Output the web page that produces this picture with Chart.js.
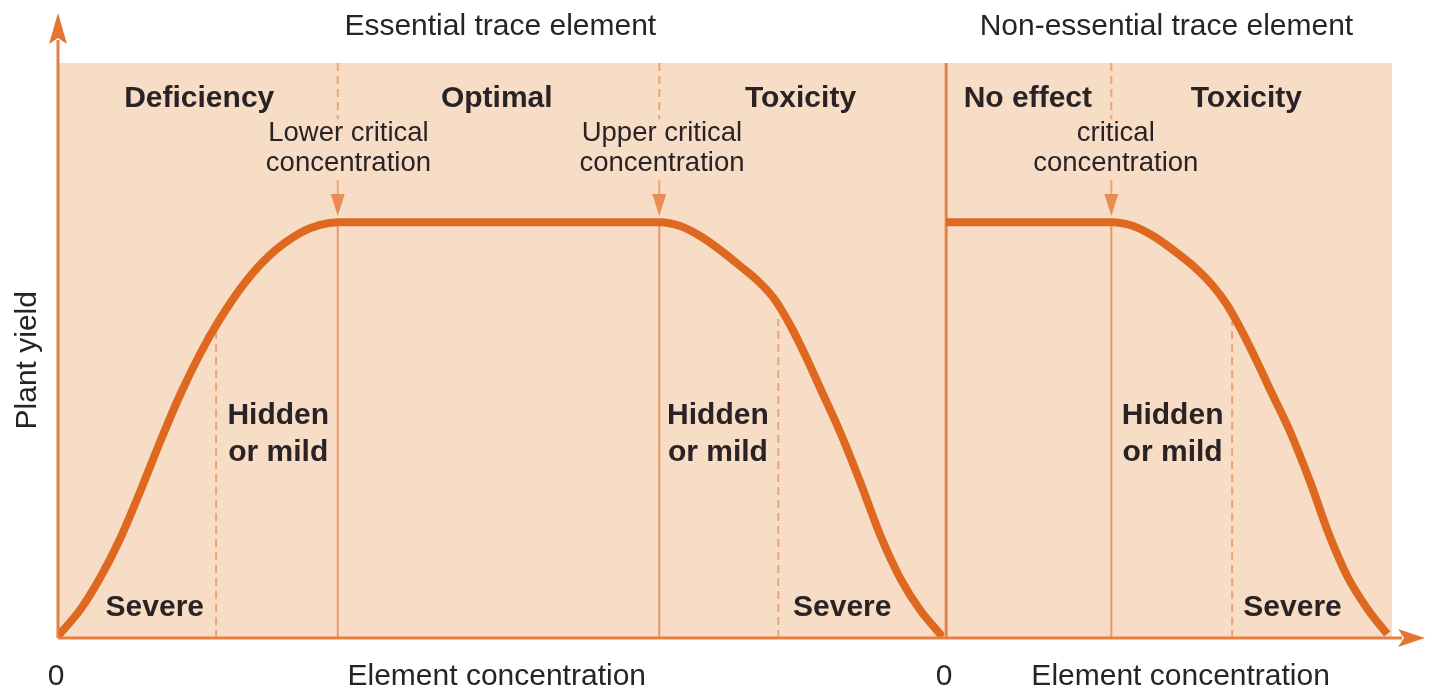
<!doctype html>
<html>
<head>
<title>Plant yield vs element concentration</title>
<script src="https://cdn.jsdelivr.net/npm/chart.js@4"></script>
<style>
body { margin: 0; background: #fff; font-family: "Liberation Sans", Arial, sans-serif; }
#holder { width: 1441px; height: 689px; }
</style>
</head>
<body>
<div id="holder"><canvas id="chart-area" width="1441" height="689"></canvas></div>
<script>
// curve for the essential trace element (x: concentration, y: yield %)
var essentialX = [0, 2.48, 4.73, 6.98, 9.23, 11.49, 13.74, 15.99, 18.24, 21.06, 23.87, 27.25, 29.5, 31.5,
                  67.7, 70.05, 72.3, 74.55, 76.8, 79.05, 80.74, 82.43, 84.12, 85.81, 88.06, 90.32, 92.57, 94.82, 97.07, 99.32];
var essentialY = [0.35, 4.87, 10.43, 17.22, 25.39, 34.09, 42.26, 49.39, 55.48, 61.83, 66.61, 70.43, 71.83, 72.3,
                  72.3, 71.65, 69.91, 67.48, 64.7, 61.74, 58.78, 54.43, 49.22, 43.48, 35.83, 27.13, 17.91, 10.43, 4.87, 0.7];
// curve for the non-essential trace element, second panel starts at x=100
var nonEssentialX = [100, 118.6, 121.06, 123.31, 125.56, 127.82, 129.95, 131.64, 133.22, 134.91, 136.6, 138.74, 140.99, 143.13, 145.27, 147.52, 149.66];
var nonEssentialY = [72.3, 72.3, 71.65, 69.91, 67.48, 64.7, 61.39, 57.91, 53.57, 48.35, 42.78, 35.83, 27.13, 17.91, 10.43, 4.87, 0.7];

var panelSplit = 100;
var criticalX = [31.5, 67.7, 118.6];      // lower, upper, non-essential critical concentration
var criticalTop = 72.3;
var hiddenX = [17.8, 81.1, 132.2];         // hidden/severe boundaries
var hiddenTop = [54.0, 55.5, 55.0];

var regionNames = ["Deficiency", "Optimal", "Toxicity", "No effect", "Toxicity"];
var regionX = [15.9, 49.4, 83.6, 109.2, 133.8];
var panelTitles = ["Essential trace element", "Non-essential trace element"];
var panelTitleX = [49.8, 124.8];
var criticalNames = [["Lower critical", "concentration"], ["Upper critical", "concentration"], ["critical", "concentration"]];
var criticalLabelX = [32.7, 68.0, 119.1];
var hiddenLabelX = [24.8, 74.3, 125.5];
var severeLabelX = [10.9, 88.3, 139.0];
var zeroX = [0, 100];
var axisTitleX = [49.4, 126.4];

function pts(xs, ys) {
    var out = [];
    for (var i = 0; i < xs.length; i++) out.push({x: xs[i], y: ys[i]});
    return out;
}

var curveColor = "rgb(222,104,32)";
var thinColor = "rgb(233,152,104)";
var dashColor = "rgb(236,165,122)";
var textColor = "#2a2326";
var font = '"Liberation Sans", Arial, sans-serif';

var datasets = [];
function vline(x, y0, y1, color, width, dash) {
    datasets.push({
        data: [{x: x, y: y0}, {x: x, y: y1}],
        borderColor: color, borderWidth: width, borderDash: dash || [],
        pointRadius: 0, tension: 0, order: 2
    });
}
vline(panelSplit, 0, 100, "rgb(230,130,70)", 3);
for (var i = 0; i < criticalX.length; i++) {
    vline(criticalX[i], 0, criticalTop, thinColor, 2);
    vline(criticalX[i], 100, 90.2, dashColor, 2, [8, 5]);
    vline(criticalX[i], 79.6, 76.5, dashColor, 2);
}
for (var i = 0; i < hiddenX.length; i++) {
    vline(hiddenX[i], 0, hiddenTop[i], dashColor, 2, [8, 5]);
}
datasets.push({
    data: pts(essentialX, essentialY), borderColor: curveColor, borderWidth: 8,
    pointRadius: 0, cubicInterpolationMode: "monotone", borderCapStyle: "round", order: 0
});
datasets.push({
    data: pts(nonEssentialX, nonEssentialY), borderColor: curveColor, borderWidth: 8,
    pointRadius: 0, cubicInterpolationMode: "monotone", borderCapStyle: "butt", order: 0
});

var decor = {
    id: "decor",
    beforeDatasetsDraw: function(chart) {
        var a = chart.chartArea, c = chart.ctx;
        c.save();
        c.fillStyle = "rgb(247,220,198)";
        c.fillRect(a.left, a.top, a.right - a.left, a.bottom - a.top);
        c.restore();
    },
    afterDatasetsDraw: function(chart) {
        var a = chart.chartArea, c = chart.ctx;
        var xs = chart.scales.x, ys = chart.scales.y;
        var px = function(v) { return xs.getPixelForValue(v); };
        var py = function(v) { return ys.getPixelForValue(v); };
        c.save();
        // axes
        c.strokeStyle = "rgb(228,128,68)";
        c.fillStyle = "rgb(228,118,52)";
        c.lineWidth = 3;
        c.beginPath();
        c.moveTo(a.left, a.bottom); c.lineTo(a.left, 40);
        c.moveTo(a.left, a.bottom); c.lineTo(1402, a.bottom);
        c.stroke();
        c.beginPath();
        c.moveTo(a.left, 13); c.lineTo(a.left - 9, 44); c.lineTo(a.left, 38); c.lineTo(a.left + 9, 44); c.closePath();
        c.fill();
        c.beginPath();
        c.moveTo(1425, a.bottom); c.lineTo(1398, a.bottom - 9); c.lineTo(1404, a.bottom); c.lineTo(1398, a.bottom + 9); c.closePath();
        c.fill();
        // arrow heads on the critical lines
        c.fillStyle = "rgb(234,140,84)";
        criticalX.forEach(function(v) {
            var x = px(v), tip = py(73.4);
            c.beginPath();
            c.moveTo(x, tip); c.lineTo(x - 7, tip - 22); c.lineTo(x + 7, tip - 22); c.closePath();
            c.fill();
        });
        // texts
        c.fillStyle = textColor;
        c.textAlign = "center";
        c.textBaseline = "middle";
        c.font = "30px " + font;
        panelTitles.forEach(function(t, i) { c.fillText(t, px(panelTitleX[i]), py(106.3)); });
        zeroX.forEach(function(v) { c.fillText("0", px(v) - 2, py(-6.8)); });
        axisTitleX.forEach(function(v) { c.fillText("Element concentration", px(v), py(-6.8)); });
        c.save();
        c.translate(px(-3.4), py(48.3));
        c.rotate(-Math.PI / 2);
        c.fillText("Plant yield", 0, 0);
        c.restore();
        c.font = "27.5px " + font;
        criticalNames.forEach(function(t, i) {
            c.fillText(t[0], px(criticalLabelX[i]), py(87.8));
            c.fillText(t[1], px(criticalLabelX[i]), py(82.6));
        });
        c.font = "bold 30px " + font;
        regionNames.forEach(function(t, i) { c.fillText(t, px(regionX[i]), py(93.8)); });
        hiddenLabelX.forEach(function(v) {
            c.fillText("Hidden", px(v), py(38.6));
            c.fillText("or mild", px(v), py(32.3));
        });
        severeLabelX.forEach(function(v) { c.fillText("Severe", px(v), py(5.2)); });
        c.restore();
    }
};

var config = {
    type: "line",
    data: { datasets: datasets },
    options: {
        responsive: false,
        animation: false,
        layout: { padding: { left: 58, right: 49, top: 63, bottom: 51 } },
        plugins: { legend: { display: false }, tooltip: { enabled: false } },
        scales: {
            x: { type: "linear", min: 0, max: 150.2, display: false },
            y: { type: "linear", min: 0, max: 100, display: false }
        }
    },
    plugins: [decor]
};

window.onload = function() {
    var ctx = document.getElementById("chart-area").getContext("2d");
    window.myChart = new Chart(ctx, config);
};
</script>
</body>
</html>
